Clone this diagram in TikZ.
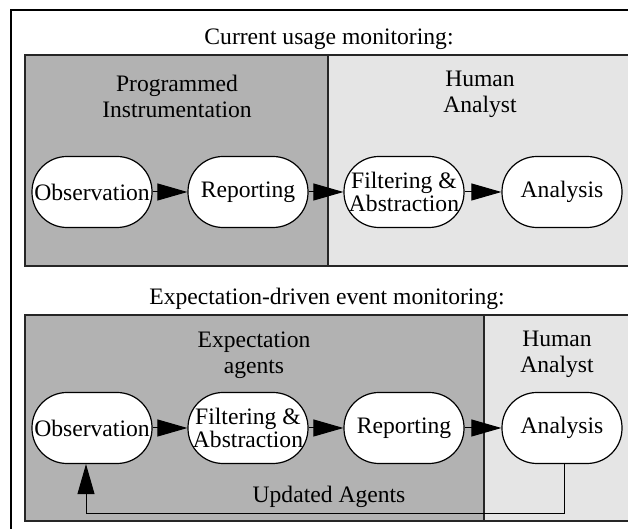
\documentclass[tikz,border=0pt]{standalone}
\usepackage{fontspec}
\setmainfont{Liberation Serif}
\usetikzlibrary{arrows.meta}
\definecolor{darkp}{gray}{0.70}
\definecolor{lightp}{gray}{0.90}
\begin{document}
\begin{tikzpicture}[x=0.5pt,y=-0.5pt,
  proc/.style={draw=black, line width=0.6pt, fill=white, rounded corners=17.5pt,
    minimum width=60pt, minimum height=35.5pt, inner sep=0pt, align=center,
    font=\fontsize{11.8}{9.8}\selectfont},
  lbl/.style={align=center, inner sep=0pt, font=\fontsize{11.8}{13}\selectfont},
  flow/.style={-{Triangle[length=15pt,width=8.5pt]}, line width=0.5pt},
  panel/.style={draw=black!85, line width=1pt}]
\useasboundingbox (0,0) rectangle (628,529);
\clip (0,0) rectangle (628,529);
\draw[line width=0.8pt] (11,10) rectangle (660,560);
% top panels
\draw[panel, fill=darkp] (25,55) rectangle (328,266);
\draw[panel, fill=lightp] (328,55) rectangle (645,266);
% bottom panels
\draw[panel, fill=darkp] (25,315) rectangle (484,521);
\draw[panel, fill=lightp] (484,315) rectangle (645,521);
% titles
\node[lbl, anchor=base] (t1) at (329,45) {Current usage monitoring:};
\node[lbl, anchor=base] (t2) at (327,305) {Expectation-driven event monitoring:};
\node[lbl] (l1) at (177,96) {Programmed\\Instrumentation};
\node[lbl] (l2) at (480,94) {Human\\Analyst};
\node[lbl] (l3) at (254,355) {Expectation\\agents};
\node[lbl] (l4) at (557,354) {Human\\Analyst};
% top row
\node[proc] (o1) at (92,192) {Observation};
\node[proc] (r1) at (248,192) {Reporting};
\node[proc] (f1) at (404,192) {Filtering \&\\Abstraction};
\node[proc] (a1) at (562,192) {Analysis};
\draw[flow] (o1) -- (r1);
\draw[flow] (r1) -- (f1);
\draw[flow] (f1) -- (a1);
% bottom row
\node[proc] (o2) at (92,428) {Observation};
\node[proc] (f2) at (248,428) {Filtering \&\\Abstraction};
\node[proc] (r2) at (404,428) {Reporting};
\node[proc] (a2) at (562,428) {Analysis};
\draw[flow] (o2) -- (f2);
\draw[flow] (f2) -- (r2);
\draw[flow] (r2) -- (a2);
\draw[flow] ([xshift=1pt]a2.south) -- ++(0,49) -| ([xshift=-3pt]o2.south);
\node[lbl, anchor=base] (u) at (329,503) {Updated Agents};
\end{tikzpicture}
\end{document}
